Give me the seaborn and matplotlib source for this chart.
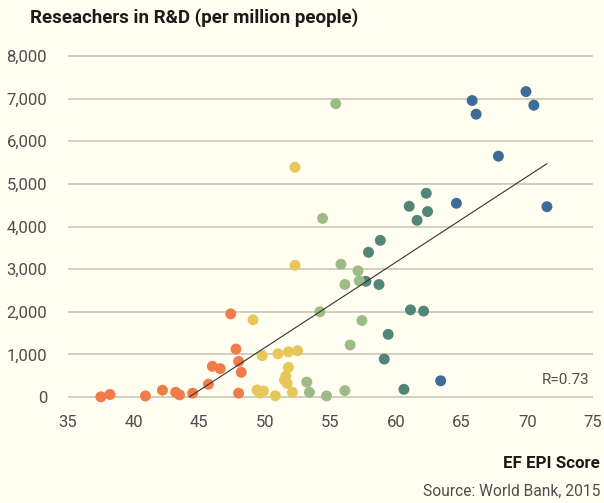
import matplotlib
matplotlib.use("Agg")
import matplotlib.pyplot as plt
import seaborn as sns
import pandas as pd
import numpy as np

# EF EPI score (x) vs researchers in R&D per million people (y), by proficiency band
orange_x = [37.5, 38.2, 40.9, 42.2, 43.2, 43.5, 44.5, 45.7, 46.0, 46.6, 47.4, 47.8, 48.0, 48.2, 48.0]
orange_y = [5, 60, 25, 160, 110, 50, 90, 300, 720, 665, 1950, 1125, 835, 580, 90]

yellow_x = [49.1, 49.8, 51.0, 51.8, 52.5, 51.8, 51.6, 51.5, 51.7, 52.1, 49.4, 49.6, 49.9, 50.8, 52.3, 52.3]
yellow_y = [1810, 970, 1015, 1060, 1085, 695, 490, 400, 320, 110, 165, 90, 140, 30, 5390, 3090]

lgreen_x = [55.4, 54.4, 55.8, 57.1, 57.2, 56.1, 54.2, 57.4, 56.5, 53.2, 53.4, 54.7, 56.1]
lgreen_y = [6880, 4190, 3115, 2960, 2725, 2640, 2000, 1795, 1220, 350, 110, 25, 150]

teal_x = [62.3, 61.0, 62.4, 61.6, 58.8, 57.9, 57.7, 58.7, 61.1, 62.1, 59.4, 59.1, 60.6]
teal_y = [4780, 4475, 4350, 4145, 3675, 3395, 2715, 2640, 2045, 2015, 1470, 890, 180]

blue_x = [64.6, 71.5, 63.4, 65.8, 66.1, 67.8, 69.9, 70.5]
blue_y = [4545, 4465, 380, 6955, 6635, 5650, 7165, 6845]

x_ticks = [35, 40, 45, 50, 55, 60, 65, 70, 75]
y_ticks = [0, 1000, 2000, 3000, 4000, 5000, 6000, 7000, 8000]

colors = {"blue": "#3d6d96", "teal": "#538478", "lgreen": "#9dbb87",
          "yellow": "#e8c75a", "orange": "#f27b4a"}

frames = []
for name, xs, ys in [("blue", blue_x, blue_y), ("teal", teal_x, teal_y),
                     ("lgreen", lgreen_x, lgreen_y), ("yellow", yellow_x, yellow_y),
                     ("orange", orange_x, orange_y)]:
    frames.append(pd.DataFrame({"epi": xs, "rd": ys, "band": name}))
df = pd.concat(frames, ignore_index=True)

bg = "#fffef0"
sns.set_theme(style="whitegrid")
plt.rcParams['font.family'] = ['Roboto', 'DejaVu Sans']

fig = plt.figure(figsize=(6.04, 5.03), dpi=100, facecolor=bg)
ax = fig.add_axes([0.1126, 0.1853, 0.869, 0.7288])
ax.set_facecolor(bg)

sns.scatterplot(data=df, x="epi", y="rd", hue="band", palette=colors, s=62,
                linewidth=0, legend=False, ax=ax, zorder=3)

# trend line from linear fit, drawn from where it crosses zero to the largest score
slope, icpt = np.polyfit(df["epi"], df["rd"], 1)
x0 = -icpt / slope
x1 = df["epi"].max()
ax.plot([x0, x1], [slope * x0 + icpt, slope * x1 + icpt], color="#333333", lw=0.8, zorder=4)

ax.set_xlim(35, 75)
ax.set_ylim(-300, 8300)
ax.set_xticks(x_ticks)
ax.set_yticks(y_ticks)
ax.set_yticklabels([f"{v:,}" for v in y_ticks])
ax.grid(axis="x", visible=False)
ax.grid(axis="y", color="#c9c8b6", linewidth=1.2)
for s in ax.spines.values():
    s.set_visible(False)
ax.tick_params(axis="both", length=0, labelsize=12, labelcolor="#4d4d4d")
ax.tick_params(axis="y", pad=15)
ax.tick_params(axis="x", pad=4)
ax.set_xlabel("")
ax.set_ylabel("")

ax.text(0.994, 0.081, "R=0.73", transform=ax.transAxes, ha="right", va="center",
        fontsize=11, color="#4d4d4d")

fig.text(30 / 604, 1 - 18 / 503, "Reseachers in R&D (per million people)", ha="left",
         va="center", fontsize=13.5, fontweight="bold", color="#1a1a1a")
fig.text(600 / 604, 1 - 464 / 503, "EF EPI Score", ha="right", va="center",
         fontsize=12.2, fontweight="bold", color="#1a1a1a")
fig.text(600 / 604, 1 - 491 / 503, "Source: World Bank, 2015", ha="right", va="center",
         fontsize=11.2, color="#4d4d4d")

fig.savefig("out.png", dpi=100, facecolor=bg)
